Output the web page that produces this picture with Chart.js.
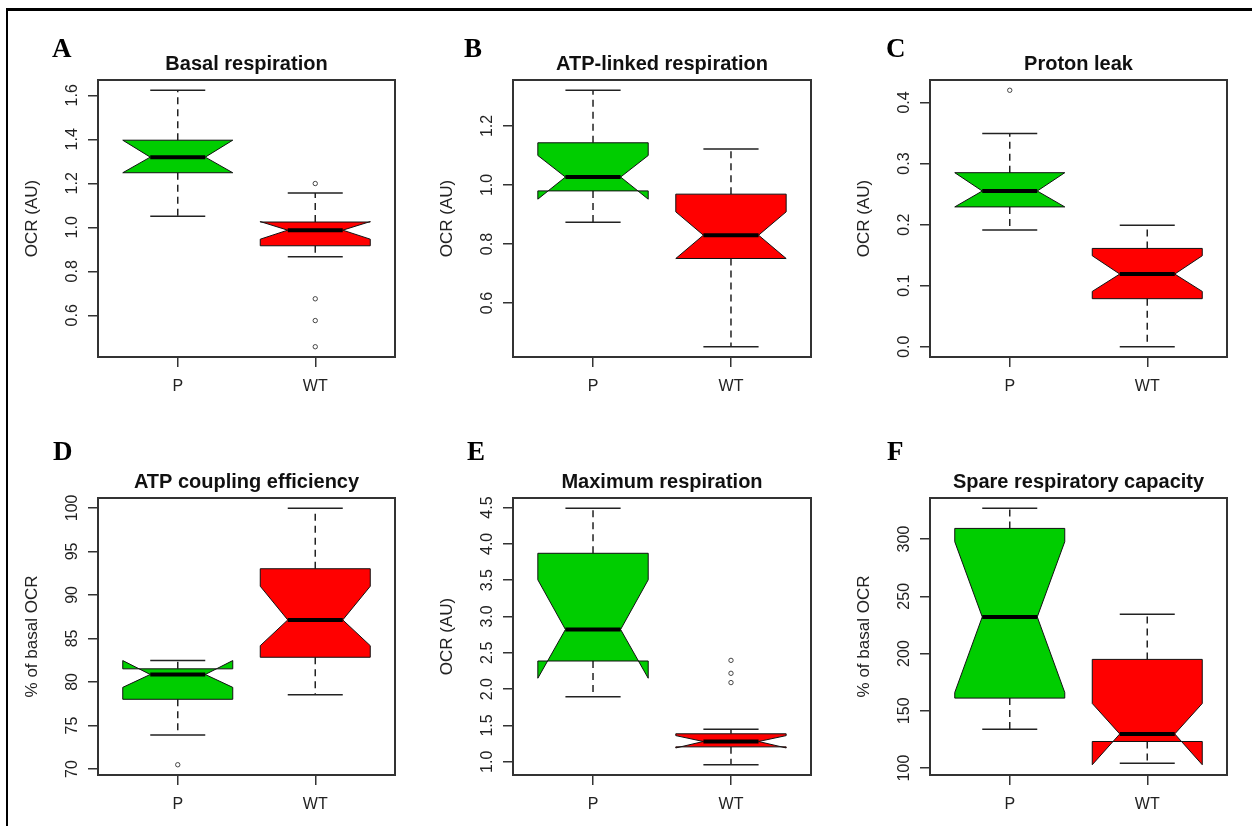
<!DOCTYPE html>
<html>
<head>
<meta charset="utf-8">
<title>Respiration boxplots</title>
<script src="https://cdn.jsdelivr.net/npm/chart.js@4.4.1/dist/chart.umd.min.js"></script>
<style>
  html, body { margin: 0; padding: 0; background: #fff; }
  #page { position: relative; width: 1252px; height: 826px; overflow: hidden; }
  #frame { position: absolute; left: 6px; top: 8px; width: 1260px; height: 830px;
           border-top: 3px solid #000; border-left: 2px solid #000; }
  canvas { position: absolute; }
</style>
</head>
<body>
<div id="page"><div id="frame"></div></div>
<script>
const groups = ['P', 'WT'];

// box stats: [lower whisker, Q1, median, Q3, upper whisker], notch: [low, high]
// A - Basal respiration
const basalP = [1.05, 1.248, 1.319, 1.396, 1.623];
const basalWT = [0.866, 0.916, 0.987, 1.024, 1.156];
const basalNotchP = [1.248, 1.396];
const basalNotchWT = [0.946, 1.026];
const basalOutP = [];
const basalOutWT = [1.199, 0.675, 0.576, 0.457];
const basalTicks = ['0.6', '0.8', '1.0', '1.2', '1.4', '1.6'];

// B - ATP-linked respiration
const atpP = [0.874, 0.980, 1.027, 1.143, 1.321];
const atpWT = [0.452, 0.751, 0.830, 0.969, 1.122];
const atpNotchP = [0.952, 1.100];
const atpNotchWT = [0.751, 0.909];
const atpOutP = [];
const atpOutWT = [];
const atpTicks = ['0.6', '0.8', '1.0', '1.2'];

// C - Proton leak
const leakP = [0.191, 0.229, 0.255, 0.285, 0.349];
const leakWT = [0.0, 0.0787, 0.119, 0.161, 0.199];
const leakNotchP = [0.229, 0.285];
const leakNotchWT = [0.0906, 0.149];
const leakOutP = [0.420];
const leakOutWT = [];
const leakTicks = ['0.0', '0.1', '0.2', '0.3', '0.4'];

// D - ATP coupling efficiency
const coupP = [73.91, 78.01, 80.86, 81.51, 82.46];
const coupWT = [78.54, 82.84, 87.13, 93.01, 99.96];
const coupNotchP = [79.38, 82.46];
const coupNotchWT = [84.17, 91.0];
const coupOutP = [70.49];
const coupOutWT = [];
const coupTicks = ['70', '75', '80', '85', '90', '95', '100'];

// E - Maximum respiration
const maxP = [1.894, 2.387, 2.821, 3.87, 4.49];
const maxWT = [0.959, 1.205, 1.279, 1.385, 1.447];
const maxNotchP = [2.15, 3.505];
const maxNotchWT = [1.19, 1.36];
const maxOutP = [];
const maxOutWT = [2.396, 2.218, 2.09];
const maxTicks = ['1.0', '1.5', '2.0', '2.5', '3.0', '3.5', '4.0', '4.5'];

// F - Spare respiratory capacity
const spareP = [133.9, 161.1, 232.0, 309.3, 326.9];
const spareWT = [104.1, 123.2, 129.8, 194.9, 234.3];
const spareNotchP = [166.0, 297.7];
const spareNotchWT = [102.9, 156.4];
const spareOutP = [];
const spareOutWT = [];
const spareTicks = ['100', '150', '200', '250', '300'];

const panels = [
  { letter: 'A', title: 'Basal respiration', yTitle: 'OCR (AU)', stats: [basalP, basalWT], notch: [basalNotchP, basalNotchWT], out: [basalOutP, basalOutWT], ticks: basalTicks },
  { letter: 'B', title: 'ATP-linked respiration', yTitle: 'OCR (AU)', stats: [atpP, atpWT], notch: [atpNotchP, atpNotchWT], out: [atpOutP, atpOutWT], ticks: atpTicks },
  { letter: 'C', title: 'Proton leak', yTitle: 'OCR (AU)', stats: [leakP, leakWT], notch: [leakNotchP, leakNotchWT], out: [leakOutP, leakOutWT], ticks: leakTicks },
  { letter: 'D', title: 'ATP coupling efficiency', yTitle: '% of basal OCR', stats: [coupP, coupWT], notch: [coupNotchP, coupNotchWT], out: [coupOutP, coupOutWT], ticks: coupTicks },
  { letter: 'E', title: 'Maximum respiration', yTitle: 'OCR (AU)', stats: [maxP, maxWT], notch: [maxNotchP, maxNotchWT], out: [maxOutP, maxOutWT], ticks: maxTicks },
  { letter: 'F', title: 'Spare respiratory capacity', yTitle: '% of basal OCR', stats: [spareP, spareWT], notch: [spareNotchP, spareNotchWT], out: [spareOutP, spareOutWT], ticks: spareTicks }
];

const boxColors = ['#00CD00', '#FF0000'];

// layout (page pixels)
const plotLefts = [98, 513, 930];
const plotRights = [395, 811, 1227];
const plotTops = [80, 498];
const plotBottoms = [357, 775];
const canvasLefts = [0, 416, 833];
const canvasWidths = [416, 417, 419];
const canvasTops = [0, 413];
const canvasHeight = 413;
const letterX = [52, 464, 886, 53, 467, 887];
const letterBase = [57, 460];

const SANS = "'Liberation Sans', Arial, sans-serif";

// R style axis range: data range padded 4% each side
function rangeOf(p) {
  let vals = [];
  p.stats.forEach(s => vals = vals.concat(s));
  p.notch.forEach(n => vals = vals.concat(n));
  p.out.forEach(o => vals = vals.concat(o));
  const lo = Math.min(...vals), hi = Math.max(...vals);
  const pad = (hi - lo) * 0.04;
  return [lo - pad, hi + pad];
}

const boxPlugin = {
  id: 'notchedBoxes',
  beforeDatasetsDraw(chart, args, opts) {
    const ctx = chart.ctx;
    const xs = chart.scales.x, ys = chart.scales.y;
    const p = opts.panel;
    p.stats.forEach((s, i) => {
      const n = p.notch[i];
      const cx = xs.getPixelForValue(i + 1);
      const w = xs.getPixelForValue(i + 1.4) - cx;
      const Y = v => ys.getPixelForValue(v);
      ctx.save();
      // whiskers
      ctx.strokeStyle = '#222';
      ctx.lineWidth = 1.5;
      ctx.setLineDash([7, 5]);
      ctx.beginPath();
      ctx.moveTo(cx, Y(s[3])); ctx.lineTo(cx, Y(s[4]));
      ctx.moveTo(cx, Y(s[1])); ctx.lineTo(cx, Y(s[0]));
      ctx.stroke();
      ctx.setLineDash([]);
      ctx.beginPath();
      ctx.moveTo(cx - w / 2, Y(s[4])); ctx.lineTo(cx + w / 2, Y(s[4]));
      ctx.moveTo(cx - w / 2, Y(s[0])); ctx.lineTo(cx + w / 2, Y(s[0]));
      ctx.stroke();
      // notched box
      ctx.beginPath();
      ctx.moveTo(cx - w, Y(s[1]));
      ctx.lineTo(cx - w, Y(n[0]));
      ctx.lineTo(cx - w / 2, Y(s[2]));
      ctx.lineTo(cx - w, Y(n[1]));
      ctx.lineTo(cx - w, Y(s[3]));
      ctx.lineTo(cx + w, Y(s[3]));
      ctx.lineTo(cx + w, Y(n[1]));
      ctx.lineTo(cx + w / 2, Y(s[2]));
      ctx.lineTo(cx + w, Y(n[0]));
      ctx.lineTo(cx + w, Y(s[1]));
      ctx.closePath();
      ctx.fillStyle = boxColors[i];
      ctx.fill();
      ctx.strokeStyle = '#111';
      ctx.lineWidth = 1;
      ctx.stroke();
      // median
      ctx.beginPath();
      ctx.lineWidth = 4;
      ctx.strokeStyle = '#000';
      ctx.moveTo(cx - w / 2, Y(s[2])); ctx.lineTo(cx + w / 2, Y(s[2]));
      ctx.stroke();
      ctx.restore();
    });
  },
  afterDraw(chart, args, opts) {
    const ctx = chart.ctx;
    const a = chart.chartArea;
    const ys = chart.scales.y;
    const p = opts.panel;
    ctx.save();
    ctx.strokeStyle = '#333';
    ctx.lineWidth = 2;
    ctx.strokeRect(a.left, a.top, a.right - a.left, a.bottom - a.top);

    ctx.fillStyle = '#222';
    ctx.font = '16px ' + SANS;
    ctx.textAlign = 'center';
    ctx.textBaseline = 'alphabetic';
    ys.ticks.forEach((t, i) => {
      ctx.save();
      ctx.translate(a.left - 21, ys.getPixelForValue(t.value));
      ctx.rotate(-Math.PI / 2);
      ctx.fillText(p.ticks[i], 0, 0);
      ctx.restore();
    });
    ctx.save();
    ctx.font = '17px ' + SANS;
    ctx.translate(a.left - 61, (a.top + a.bottom) / 2);
    ctx.rotate(-Math.PI / 2);
    ctx.fillText(p.yTitle, 0, 0);
    ctx.restore();

    ctx.fillStyle = '#111';
    ctx.font = 'bold 20px ' + SANS;
    ctx.fillText(p.title, (a.left + a.right) / 2, a.top - 10.5);

    ctx.fillStyle = '#000';
    ctx.textAlign = 'left';
    ctx.font = "bold 27px 'Liberation Serif', 'Times New Roman', serif";
    ctx.fillText(p.letter, opts.letterX, opts.letterY);
    ctx.restore();
  }
};

const page = document.getElementById('page');

panels.forEach((p, k) => {
  const col = k % 3, row = Math.floor(k / 3);
  const cl = canvasLefts[col], ct = canvasTops[row];
  const cw = canvasWidths[col], ch = canvasHeight;
  const canvas = document.createElement('canvas');
  canvas.width = cw; canvas.height = ch;
  canvas.style.left = cl + 'px'; canvas.style.top = ct + 'px';
  canvas.style.width = cw + 'px'; canvas.style.height = ch + 'px';
  page.appendChild(canvas);

  const yAxisW = 10, xAxisH = 45;
  const [ymin, ymax] = rangeOf(p);
  const points = [];
  p.out.forEach((o, i) => o.forEach(v => points.push({ x: i + 1, y: v })));

  new Chart(canvas, {
    type: 'scatter',
    data: {
      datasets: [{
        data: points,
        pointRadius: 2.2,
        pointHoverRadius: 2.2,
        pointBorderWidth: 1,
        pointBorderColor: '#444',
        pointBackgroundColor: '#fff'
      }]
    },
    options: {
      responsive: false,
      animation: false,
      events: [],
      layout: {
        padding: {
          left: plotLefts[col] - cl - yAxisW,
          top: plotTops[row] - ct,
          right: cl + cw - plotRights[col],
          bottom: ct + ch - plotBottoms[row] - xAxisH
        }
      },
      plugins: {
        legend: { display: false },
        tooltip: { enabled: false },
        notchedBoxes: { panel: p, letterX: letterX[k] - cl, letterY: letterBase[row] - ct }
      },
      scales: {
        x: {
          type: 'linear',
          min: 0.42,
          max: 2.58,
          afterBuildTicks: s => { s.ticks = [{ value: 1 }, { value: 2 }]; },
          afterFit: s => { s.height = xAxisH; },
          ticks: {
            callback: v => groups[Math.round(v) - 1],
            font: { family: SANS, size: 16 },
            color: '#222',
            padding: 10,
            autoSkip: false,
            maxRotation: 0
          },
          grid: { drawOnChartArea: false, drawTicks: true, tickLength: 10, color: '#333', lineWidth: 1.5 },
          border: { display: false }
        },
        y: {
          type: 'linear',
          min: ymin,
          max: ymax,
          afterBuildTicks: s => { s.ticks = p.ticks.map(t => ({ value: parseFloat(t) })); },
          afterFit: s => { s.width = yAxisW; },
          ticks: { display: false },
          grid: { drawOnChartArea: false, drawTicks: true, tickLength: 10, color: '#333', lineWidth: 1.5 },
          border: { display: false }
        }
      }
    },
    plugins: [boxPlugin]
  });
});
</script>
</body>
</html>
